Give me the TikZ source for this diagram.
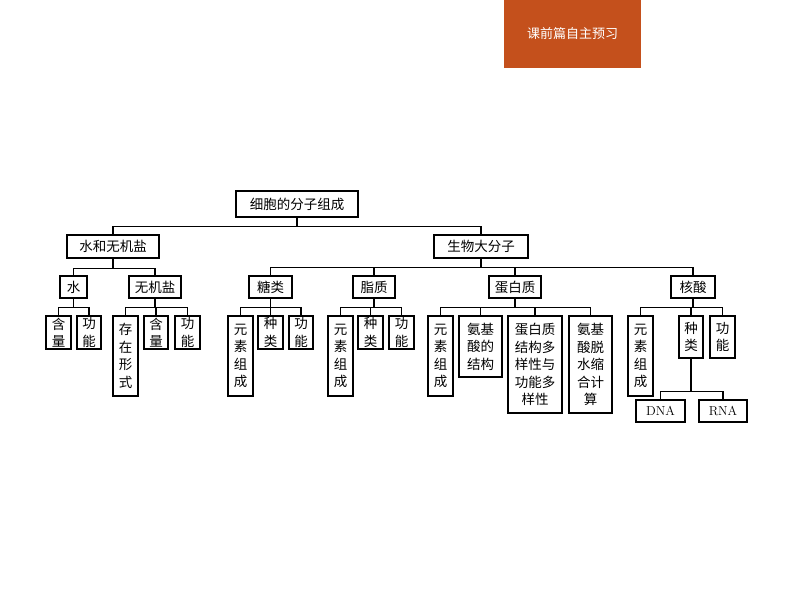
\documentclass[tikz,border=0pt]{standalone}
\usepackage{fontspec}
\newfontfamily\cjk{Noto Sans CJK SC}
\definecolor{banner}{HTML}{C4501C}
\tikzset{bx/.style={draw,line width=1.1pt,inner sep=0pt,align=center,font=\cjk\fontsize{13.5}{17.5}\selectfont},
ln/.style={line width=1.1pt}}
\newcommand\bx[6]{\node[bx,minimum width=#4-#2,minimum height=#5-#3] (#1) at ({(#2+#4)/2},{(#3+#5)/2}) {#6};}
\begin{document}
\begin{tikzpicture}[x=1pt,y=-1pt]
\useasboundingbox (0,0) rectangle (794,596);
\fill[banner] (504,0) rectangle (641,68);
\node[text=white,font=\cjk\fontsize{13}{15}\selectfont] (ban) at (572.5,34) {课前篇自主预习};
\bx{root}{236}{191}{358}{217}{细胞的分子组成}
\bx{wi}{67}{235}{159}{258}{水和无机盐}
\bx{bio}{434}{235}{528}{258}{生物大分子}
\bx{w}{60}{276}{87}{298}{水}
\bx{ino}{129}{276}{181}{298}{无机盐}
\bx{sug}{249}{276}{292}{298}{糖类}
\bx{lip}{353}{276}{395}{298}{脂质}
\bx{pro}{489}{276}{541}{298}{蛋白质}
\bx{nuc}{671}{276}{715}{298}{核酸}
\bx{a1}{46}{316}{71}{349}{含\\量}
\bx{a2}{77}{316}{101}{349}{功\\能}
\bx{b1}{113}{316}{138}{396}{存\\在\\形\\式}
\bx{b2}{144}{316}{168}{349}{含\\量}
\bx{b3}{175}{316}{200}{349}{功\\能}
\bx{c1}{228}{316}{253}{396}{元\\素\\组\\成}
\bx{c2}{258}{316}{283}{349}{种\\类}
\bx{c3}{289}{316}{313}{349}{功\\能}
\bx{d1}{328}{316}{353}{396}{元\\素\\组\\成}
\bx{d2}{358}{316}{383}{349}{种\\类}
\bx{d3}{389}{316}{414}{349}{功\\能}
\bx{e1}{428}{316}{453}{396}{元\\素\\组\\成}
\bx{e2}{459}{316}{502}{377}{氨基\\酸的\\结构}
\bx{e3}{508}{316}{562}{413}{蛋白质\\结构多\\样性与\\功能多\\样性}
\bx{e4}{569}{316}{612}{413}{氨基\\酸脱\\水缩\\合计\\算}
\bx{f1}{628}{316}{653}{396}{元\\素\\组\\成}
\bx{f2}{679}{316}{703}{358}{种\\类}
\bx{f3}{710}{316}{735}{358}{功\\能}
\node[bx,font=\rmfamily\fontsize{13}{15}\selectfont,minimum width=49,minimum height=22] (dna) at (660.5,411) {DNA};
\node[bx,font=\rmfamily\fontsize{13}{15}\selectfont,minimum width=48,minimum height=22] (rna) at (723,411) {RNA};
\draw[ln] (root.south) -- ++(0,9) -| (wi.north);
\draw[ln] (root.south) -- ++(0,9) -| (bio.north);
\draw[ln] (wi.south) -- ++(0,10) -| (w.north);
\draw[ln] (wi.south) -- ++(0,10) -| (ino.north);
\foreach \t in {sug,lip,pro,nuc} \draw[ln] (bio.south) -- ++(0,9) -| (\t.north);
\foreach \t in {a1,a2} \draw[ln] (w.south) -- ++(0,9) -| (\t.north);
\foreach \t in {b1,b2,b3} \draw[ln] (ino.south) -- ++(0,9) -| (\t.north);
\foreach \t in {c1,c2,c3} \draw[ln] (sug.south) -- ++(0,9) -| (\t.north);
\foreach \t in {d1,d2,d3} \draw[ln] (lip.south) -- ++(0,9) -| (\t.north);
\foreach \t in {e1,e2,e3,e4} \draw[ln] (pro.south) -- ++(0,9) -| (\t.north);
\foreach \t in {f1,f2,f3} \draw[ln] (nuc.south) -- ++(0,9) -| (\t.north);
\foreach \t in {dna,rna} \draw[ln] (f2.south) -- ++(0,33) -| (\t.north);
\end{tikzpicture}
\end{document}
